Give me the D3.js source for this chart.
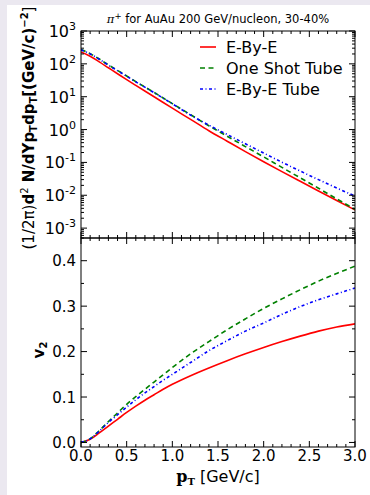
<!DOCTYPE html>
<html>
<head>
<meta charset="utf-8">
<script src="https://cdn.jsdelivr.net/npm/d3@7"></script>
<style>
  body { margin: 0; background: #ebe8f0; }
  svg { display: block; }
  text { font-family: "DejaVu Sans", sans-serif; }
</style>
</head>
<body>
<div id="chart"></div>
<script>
// data (pT in GeV/c)
const ptSpec = [0, 0.1, 0.2, 0.3, 0.4, 0.5, 0.6, 0.8, 1.0, 1.2, 1.4, 1.6, 1.8, 2.0, 2.2, 2.4, 2.6, 2.8, 3.0]
const specEbyE = [230, 170, 115, 75.9, 50.1, 33.1, 22.1, 10.0, 4.47, 2.04, 0.923, 0.442, 0.213, 0.105, 0.0525, 0.0266, 0.01355, 0.00692, 0.00356]
const specOneShot = [272, 204, 140, 93, 63, 42.7, 28.8, 13.5, 6.17, 2.82, 1.31, 0.627, 0.303, 0.147, 0.0705, 0.034, 0.0164, 0.00774, 0.00371]
const specEbyETube = [268, 201, 138, 91.5, 62, 42, 28.3, 13.3, 6.1, 2.75, 1.36, 0.706, 0.368, 0.193, 0.1014, 0.0547, 0.0299, 0.0166, 0.00948]

const ptV2 = [0, 0.1, 0.2, 0.3, 0.4, 0.5, 0.6, 0.7, 0.8, 0.9, 1.0, 1.2, 1.4, 1.6, 1.8, 2.0, 2.2, 2.4, 2.6, 2.8, 3.0]
const v2EbyE = [0, 0.007, 0.021, 0.036, 0.051, 0.066, 0.080, 0.093, 0.105, 0.117, 0.128, 0.147, 0.164, 0.180, 0.195, 0.209, 0.222, 0.234, 0.245, 0.254, 0.261]
const v2OneShot = [0, 0.008, 0.026, 0.046, 0.065, 0.084, 0.101, 0.117, 0.133, 0.149, 0.165, 0.195, 0.222, 0.248, 0.272, 0.295, 0.316, 0.336, 0.355, 0.372, 0.388]
const v2EbyETube = [0, 0.008, 0.025, 0.044, 0.061, 0.078, 0.094, 0.109, 0.123, 0.137, 0.150, 0.176, 0.202, 0.224, 0.245, 0.263, 0.282, 0.299, 0.314, 0.327, 0.340]

const seriesNames = ['E-By-E', 'One Shot Tube', 'E-By-E Tube']
const xTicks = [0, 0.5, 1.0, 1.5, 2.0, 2.5, 3.0]
const logTicks = [-3, -2, -1, 0, 1, 2, 3]
const v2Ticks = [0.0, 0.1, 0.2, 0.3, 0.4]

const width = 370, height = 495
const styles = [
  {color: '#ff0000', dash: null},
  {color: '#008000', dash: '5,3.5'},
  {color: '#0000ff', dash: '3,2.5,1,2.5'}
]

let svg = d3.select('#chart').append('svg')
  .attr('width', width)
  .attr('height', height)

svg.append('rect')
  .attr('x', 7).attr('y', 5)
  .attr('width', width - 7).attr('height', height - 5)
  .attr('fill', '#ffffff')

let xScale = d3.scaleLinear().domain([0, 3]).range([81, 355])
let ySpec = d3.scaleLog().domain([5e-4, 1e3]).range([238, 31])
let yV2 = d3.scaleLinear().domain([-0.01, 0.45]).range([447, 238])

const clipTop = svg.append('clipPath').attr('id', 'clip-top')
clipTop.append('rect').attr('x', 81).attr('y', 31).attr('width', 274).attr('height', 207)
const clipBot = svg.append('clipPath').attr('id', 'clip-bot')
clipBot.append('rect').attr('x', 81).attr('y', 238).attr('width', 274).attr('height', 209)

let topPanel = svg.append('g')
let botPanel = svg.append('g')

// curves
const specLine = d3.line()
  .curve(d3.curveMonotoneX)
  .x((d, i) => xScale(ptSpec[i]))
  .y(d => ySpec(d))

const v2Line = d3.line()
  .curve(d3.curveMonotoneX)
  .x((d, i) => xScale(ptV2[i]))
  .y(d => yV2(d))

let topLines = topPanel.append('g').attr('clip-path', 'url(#clip-top)')
let botLines = botPanel.append('g').attr('clip-path', 'url(#clip-bot)')

;[specEbyE, specOneShot, specEbyETube].forEach((s, i) => {
  topLines.append('path')
    .datum(s)
    .attr('d', specLine)
    .attr('fill', 'none')
    .attr('stroke', styles[i].color)
    .attr('stroke-width', 1.6)
    .attr('stroke-dasharray', styles[i].dash)
})

;[v2EbyE, v2OneShot, v2EbyETube].forEach((s, i) => {
  botLines.append('path')
    .datum(s)
    .attr('d', v2Line)
    .attr('fill', 'none')
    .attr('stroke', styles[i].color)
    .attr('stroke-width', 1.6)
    .attr('stroke-dasharray', styles[i].dash)
})

// inward ticks on all four sides
const xMinor = d3.range(0, 31).map(d => d / 10).filter(d => xTicks.indexOf(d) < 0)

function xTicksOn(g, yTop, yBot) {
  xTicks.forEach(t => {
    g.append('line').attr('x1', xScale(t)).attr('x2', xScale(t)).attr('y1', yBot).attr('y2', yBot - 6).attr('stroke', '#000')
    g.append('line').attr('x1', xScale(t)).attr('x2', xScale(t)).attr('y1', yTop).attr('y2', yTop + 6).attr('stroke', '#000')
  })
  xMinor.forEach(t => {
    g.append('line').attr('x1', xScale(t)).attr('x2', xScale(t)).attr('y1', yBot).attr('y2', yBot - 3).attr('stroke', '#000')
    g.append('line').attr('x1', xScale(t)).attr('x2', xScale(t)).attr('y1', yTop).attr('y2', yTop + 3).attr('stroke', '#000')
  })
}

function yTick(g, y, len) {
  g.append('line').attr('x1', 81).attr('x2', 81 + len).attr('y1', y).attr('y2', y).attr('stroke', '#000')
  g.append('line').attr('x1', 355).attr('x2', 355 - len).attr('y1', y).attr('y2', y).attr('stroke', '#000')
}

xTicksOn(topPanel, 31, 238)
xTicksOn(botPanel, 238, 447)

// log ticks
logTicks.forEach(p => {
  yTick(topPanel, ySpec(Math.pow(10, p)), 6)
  let lab = topPanel.append('text')
    .attr('x', 76)
    .attr('y', ySpec(Math.pow(10, p)) + 6)
    .attr('text-anchor', 'end')
    .attr('font-size', 16)
  lab.append('tspan').text('10')
  lab.append('tspan').attr('dy', -7).attr('font-size', 11).text(p)
})
d3.range(-4, 3).forEach(p => {
  d3.range(2, 10).forEach(m => {
    let v = m * Math.pow(10, p)
    if (v >= 5e-4 && v <= 1e3) yTick(topPanel, ySpec(v), 3)
  })
})

// v2 ticks
v2Ticks.forEach(t => {
  yTick(botPanel, yV2(t), 6)
  botPanel.append('text')
    .attr('x', 76)
    .attr('y', yV2(t) + 5.5)
    .attr('text-anchor', 'end')
    .attr('font-size', 15)
    .text(t.toFixed(1))
})
;[0.05, 0.15, 0.25, 0.35].forEach(t => yTick(botPanel, yV2(t), 3))

xTicks.forEach(t => {
  botPanel.append('text')
    .attr('x', xScale(t))
    .attr('y', 461)
    .attr('text-anchor', 'middle')
    .attr('font-size', 15)
    .text(t.toFixed(1))
})

// frames
topPanel.append('rect').attr('x', 81).attr('y', 31).attr('width', 274).attr('height', 207)
  .attr('fill', 'none').attr('stroke', '#000')
botPanel.append('rect').attr('x', 81).attr('y', 238).attr('width', 274).attr('height', 209)
  .attr('fill', 'none').attr('stroke', '#000')

// title
let title = svg.append('text')
  .attr('x', 218).attr('y', 23)
  .attr('text-anchor', 'middle')
  .attr('font-size', 11.5)
title.append('tspan').attr('font-family', 'DejaVu Serif').attr('font-style', 'italic').text('π')
title.append('tspan').attr('dy', -4).attr('font-size', 8.5).text('+')
title.append('tspan').attr('dy', 4).text(' for AuAu 200 GeV/nucleon, 30-40%')

// legend
let legend = svg.append('g')
seriesNames.forEach((name, i) => {
  let y = 47 + i * 21
  legend.append('line')
    .attr('x1', 200).attr('x2', 216)
    .attr('y1', y).attr('y2', y)
    .attr('stroke', styles[i].color)
    .attr('stroke-width', 1.6)
    .attr('stroke-dasharray', styles[i].dash)
  legend.append('text')
    .attr('x', 226).attr('y', y + 6)
    .attr('font-size', 16)
    .text(name)
})

// axis labels
let yl = svg.append('text')
  .attr('transform', 'translate(34,128) rotate(-90)')
  .attr('text-anchor', 'middle')
  .attr('font-family', 'DejaVu Serif')
  .attr('font-size', 15)
yl.append('tspan').text('(1/2π)')
yl.append('tspan').attr('font-weight', 'bold').text('d')
yl.append('tspan').attr('dy', -6).attr('font-size', 10).text('2')
yl.append('tspan').attr('dy', 6).attr('font-weight', 'bold').text(' N/dYp')
yl.append('tspan').attr('dy', 3).attr('font-size', 10).attr('font-weight', 'bold').text('T')
yl.append('tspan').attr('dy', -3).attr('font-weight', 'bold').text('dp')
yl.append('tspan').attr('dy', 3).attr('font-size', 10).attr('font-weight', 'bold').text('T')
yl.append('tspan').attr('dy', -3).attr('font-weight', 'bold').text('[(GeV/c)')
yl.append('tspan').attr('dy', -6).attr('font-size', 10).attr('font-weight', 'bold').text('−2')
yl.append('tspan').attr('dy', 6).text(']')

let vl = svg.append('text')
  .attr('transform', 'translate(44,350) rotate(-90)')
  .attr('text-anchor', 'middle')
  .attr('font-family', 'DejaVu Serif')
  .attr('font-weight', 'bold')
  .attr('font-size', 15)
vl.append('tspan').text('v')
vl.append('tspan').attr('dy', 3).attr('font-size', 10).text('2')

let xl = svg.append('text')
  .attr('x', 218).attr('y', 482)
  .attr('text-anchor', 'middle')
  .attr('font-size', 16)
xl.append('tspan').attr('font-family', 'DejaVu Serif').attr('font-weight', 'bold').text('p')
xl.append('tspan').attr('dy', 3).attr('font-family', 'DejaVu Serif').attr('font-weight', 'bold').attr('font-size', 10).text('T')
xl.append('tspan').attr('dy', -3).text('  [GeV/c]')
</script>
</body>
</html>
